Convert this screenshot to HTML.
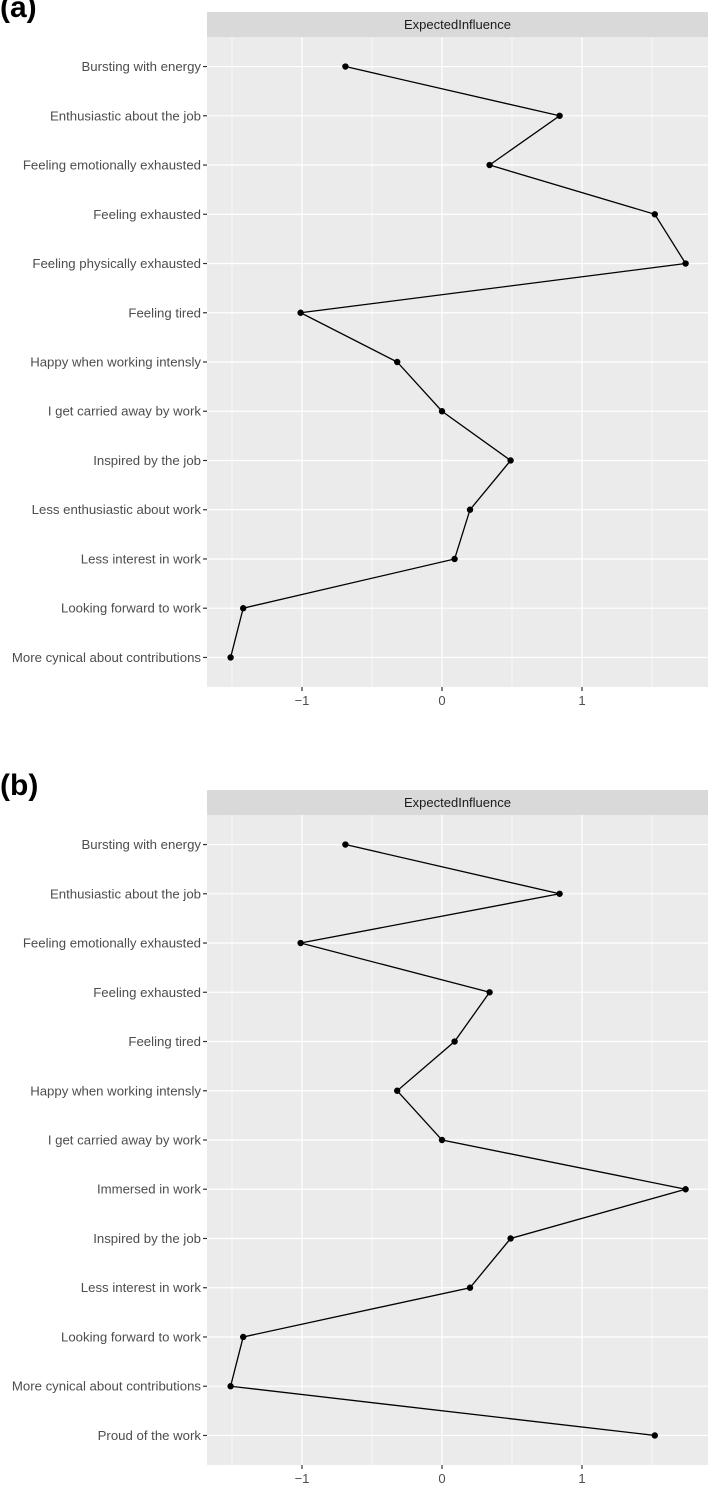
<!DOCTYPE html>
<html><head><meta charset="utf-8"><style>
body{margin:0;background:#fff;}
svg{display:block;font-family:"Liberation Sans",sans-serif;}
</style></head><body>
<svg id="chart" width="709" height="1488"></svg>
<script>
const labelsA=["Bursting with energy","Enthusiastic about the job","Feeling emotionally exhausted","Feeling exhausted","Feeling physically exhausted","Feeling tired","Happy when working intensly","I get carried away by work","Inspired by the job","Less enthusiastic about work","Less interest in work","Looking forward to work","More cynical about contributions"];
const valuesA=[-0.69,0.84,0.34,1.52,1.74,-1.01,-0.32,0.0,0.49,0.20,0.09,-1.42,-1.51];
const labelsB=["Bursting with energy","Enthusiastic about the job","Feeling emotionally exhausted","Feeling exhausted","Feeling tired","Happy when working intensly","I get carried away by work","Immersed in work","Inspired by the job","Less interest in work","Looking forward to work","More cynical about contributions","Proud of the work"];
const valuesB=[-0.69,0.84,-1.01,0.34,0.09,-0.32,0.0,1.74,0.49,0.20,-1.42,-1.51,1.52];
const majorTicks=[-1,0,1];
const minorTicks=[-1.5,-0.5,0.5,1.5];
const NS="http://www.w3.org/2000/svg";
const svg=document.getElementById('chart');
function mk(tag,attrs,parent){const e=document.createElementNS(NS,tag);for(const k in attrs)e.setAttribute(k,attrs[k]);(parent||svg).appendChild(e);return e;}
const X0=207,X1=708;
function xs(v){return 442+v*140;}
function panel(top,letter,labels,values,name){
  const g=mk('g',{});
  
  
  const t=mk('text',{x:0,y:top+17,'font-size':30,'font-weight':'bold',fill:'#000'},g);t.textContent=letter;
  
  
  const sTop=top+12,pTop=top+37,pBot=top+687;
  const strip=mk('rect',{x:X0,y:sTop,width:X1-X0,height:25,fill:'#d9d9d9'},g);
  
  
  const st=mk('text',{x:(X0+X1)/2,y:sTop+17,'font-size':13,'text-anchor':'middle',fill:'#1a1a1a'},g);st.textContent='ExpectedInfluence';
  
  
  const bg=mk('rect',{x:X0,y:pTop,width:X1-X0,height:pBot-pTop,fill:'#ebebeb'},g);
  
  
  const n=labels.length,step=(pBot-pTop)/(n-1+1.2);
  const ys=i=>pTop+step*(0.6+i);
  minorTicks.forEach(v=>{const l=mk('line',{x1:xs(v),x2:xs(v),y1:pTop,y2:pBot,stroke:'#fff','stroke-width':0.6},g);
    
    });
  majorTicks.forEach(v=>{const l=mk('line',{x1:xs(v),x2:xs(v),y1:pTop,y2:pBot,stroke:'#fff','stroke-width':1.2},g);
    
    
    const tk=mk('line',{x1:xs(v),x2:xs(v),y1:pBot,y2:pBot+4,stroke:'#333','stroke-width':1.2},g);
    
    
    const tl=mk('text',{x:xs(v),y:pBot+18,'font-size':13,'text-anchor':'middle',fill:'#4d4d4d'},g);tl.textContent=v<0?'\u2212'+(-v):String(v);
    
    });
  labels.forEach((lab,i)=>{const y=ys(i);
    const gl=mk('line',{x1:X0,x2:X1,y1:y,y2:y,stroke:'#fff','stroke-width':1.2},g);
    
    
    const tk=mk('line',{x1:X0-4,x2:X0,y1:y,y2:y,stroke:'#333','stroke-width':1.2},g);
    
    
    const tl=mk('text',{x:X0-6,y:y+4.5,'font-size':13.2,'text-anchor':'end',fill:'#4d4d4d'},g);tl.textContent=lab;
    
    });
  const pts=values.map((v,i)=>xs(v)+','+ys(i)).join(' ');
  const pl=mk('polyline',{points:pts,fill:'none',stroke:'#000','stroke-width':1.3},g);
  
  
  values.forEach((v,i)=>{const c=mk('circle',{cx:xs(v),cy:ys(i),r:3.2,fill:'#000'},g);
    
    });
}
panel(0,'(a)',labelsA,valuesA,'panel-a');
panel(778,'(b)',labelsB,valuesB,'panel-b');
</script>
</body></html>
